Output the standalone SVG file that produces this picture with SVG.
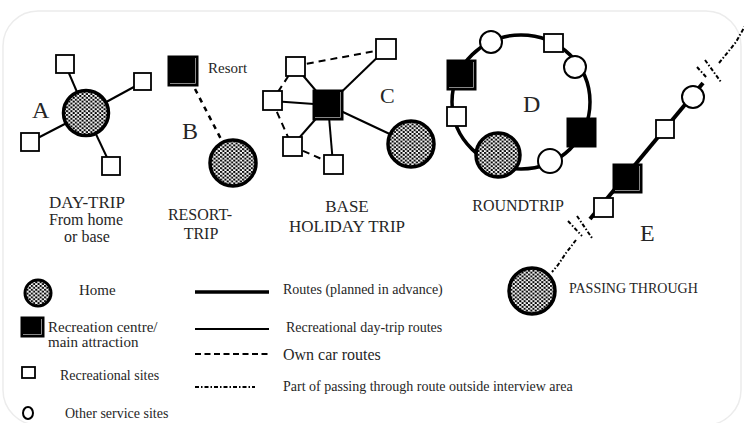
<svg xmlns="http://www.w3.org/2000/svg" width="744" height="423" viewBox="0 0 744 423">
<defs>
<pattern id="dots" patternUnits="userSpaceOnUse" width="4.4" height="3.8">
<rect width="4.4" height="3.8" fill="#fff"/>
<circle cx="1.1" cy="0.95" r="1.15" fill="#000"/>
<circle cx="3.3" cy="2.85" r="1.15" fill="#000"/>
</pattern>
</defs>
<style>
text{font-family:"Liberation Serif","Times New Roman",serif;fill:#262626}
.home{fill:url(#dots);stroke:#000;stroke-width:3.5}
.sq{fill:#fff;stroke:#000;stroke-width:1.8}
.blk{fill:#000;stroke:#000;stroke-width:1}
.shine{fill:none;stroke:#888;stroke-width:1}
.svc{fill:#fff;stroke:#000;stroke-width:2}
.thin{stroke:#000;stroke-width:2;fill:none}
.thick{stroke:#000;stroke-width:3.6;fill:none}
.dash{stroke:#000;stroke-width:2;fill:none;stroke-dasharray:7 5}
.pass{stroke:#000;stroke-width:2;fill:none;stroke-dasharray:4 2 1.5 2}
.lbl{font-size:24px}
.cap{font-size:17px;text-anchor:middle}
.leg{font-size:14px}
</style>
<rect x="3" y="11" width="738" height="414" rx="35" fill="#fff" stroke="#ececec" stroke-width="1.5"/>

<g id="connectors">
<line class="thin" x1="86" y1="113" x2="65" y2="64"/>
<line class="thin" x1="86" y1="113" x2="143" y2="82"/>
<line class="thin" x1="86" y1="113" x2="30" y2="142"/>
<line class="thin" x1="86" y1="113" x2="111" y2="166"/>
<line x1="195" y1="89" x2="222" y2="141" stroke="#000" stroke-width="2.5" stroke-dasharray="5 5"/>
<line class="thin" x1="328" y1="105" x2="386" y2="49"/>
<line class="thin" x1="328" y1="105" x2="295" y2="66"/>
<line class="thin" x1="328" y1="105" x2="272" y2="101"/>
<line class="thin" x1="328" y1="105" x2="292" y2="146"/>
<line class="thin" x1="328" y1="105" x2="333" y2="164"/>
<line class="thin" x1="328" y1="105" x2="411" y2="144"/>
<line class="dash" x1="295" y1="66" x2="386" y2="49"/>
<line class="dash" x1="295" y1="66" x2="272" y2="101"/>
<line class="dash" x1="272" y1="101" x2="292" y2="146"/>
<line class="dash" x1="292" y1="146" x2="333" y2="164"/>
<ellipse cx="521" cy="102" rx="69" ry="67" fill="none" stroke="#000" stroke-width="3.5"/>
<line x1="590" y1="219" x2="703" y2="83" stroke="#000" stroke-width="4"/>
<path class="pass" d="M719 63 L728 52 L736 42 L741 33 L745 26"/>
<path class="pass" d="M697 67 L707 78 M705 60 L721 82"/>
<path class="pass" d="M568 221 L582 236 M577 216 L592 238"/>
<path class="pass" d="M576 240 L566 253 L558 265 L552 272"/>
</g>

<g id="nodeA">
<circle class="home" cx="86" cy="113" r="22.5"/>
<rect class="sq" x="56" y="55" width="18" height="18"/>
<rect class="sq" x="134" y="73" width="17" height="17"/>
<rect class="sq" x="21" y="133" width="18" height="18"/>
<rect class="sq" x="102" y="157" width="18" height="18"/>
<text class="lbl" x="32" y="118">A</text>
<text class="cap" x="87" y="208">DAY-TRIP</text>
<text class="cap" x="86" y="225" style="font-size:16px">From home</text>
<text class="cap" x="87" y="242" style="font-size:16px">or base</text>
</g>

<g id="nodeB">
<rect class="blk" x="168" y="56" width="30" height="30"/>
<path class="shine" d="M195.5 58 V83.5 H170"/>
<text x="208" y="73" style="font-size:15px">Resort</text>
<circle class="home" cx="233" cy="163" r="23"/>
<text class="lbl" x="182" y="139">B</text>
<text class="cap" x="200" y="220" style="font-size:16px">RESORT-</text>
<text class="cap" x="201" y="239" style="font-size:16px">TRIP</text>
</g>

<g id="nodeC">
<rect class="sq" x="376" y="39" width="20" height="20"/>
<rect class="sq" x="286" y="57" width="19" height="19"/>
<rect class="sq" x="263" y="91" width="19" height="19"/>
<rect class="sq" x="283" y="137" width="19" height="19"/>
<rect class="sq" x="324" y="155" width="19" height="19"/>
<rect class="blk" x="313" y="90" width="30" height="30"/>
<path class="shine" d="M340.5 92 V117.5 H315"/>
<circle class="home" cx="411" cy="144" r="23"/>
<text class="lbl" x="380" y="103" style="font-size:22px">C</text>
<text class="cap" x="347" y="212">BASE</text>
<text class="cap" x="347" y="232">HOLIDAY TRIP</text>
</g>

<g id="nodeD">
<circle class="svc" cx="491" cy="42" r="11"/>
<rect class="sq" x="544" y="34" width="19" height="18"/>
<circle class="svc" cx="575" cy="67" r="11"/>
<rect class="blk" x="447" y="60" width="29" height="30"/>
<path class="shine" d="M473.5 62 V87.5 H449"/>
<rect class="sq" x="447" y="107" width="19" height="19"/>
<rect class="blk" x="567" y="118" width="29" height="29"/>
<circle class="svc" cx="550" cy="161" r="12"/>
<circle class="home" cx="498" cy="155" r="22"/>
<text class="lbl" x="523" y="112">D</text>
<text class="cap" x="518" y="211" style="font-size:16px">ROUNDTRIP</text>
</g>

<g id="nodeE">
<rect class="sq" x="594" y="198" width="19" height="19"/>
<rect class="blk" x="613" y="164" width="29" height="29"/>
<path class="shine" d="M639.5 166 V190.5 H615"/>
<rect class="sq" x="656" y="120" width="18" height="18"/>
<circle class="svc" cx="693" cy="97" r="11"/>
<circle class="home" cx="532" cy="291" r="23"/>
<text class="lbl" x="640" y="241">E</text>
<text x="569" y="293" style="font-size:14px">PASSING THROUGH</text>
</g>

<g id="legend">
<circle class="home" cx="38" cy="293" r="13" style="stroke-width:3"/>
<text x="79" y="295" style="font-size:15px">Home</text>
<rect class="blk" x="21" y="317" width="23" height="20"/>
<path class="shine" d="M41.5 319 V334.5 H23"/>
<text x="48" y="332" style="font-size:15px">Recreation centre/</text>
<text x="48" y="347" style="font-size:15px">main attraction</text>
<rect class="sq" x="22" y="367" width="13" height="11"/>
<text x="60" y="380" style="font-size:14px">Recreational sites</text>
<ellipse cx="28" cy="413" rx="5" ry="6" fill="#fff" stroke="#000" stroke-width="2"/>
<text x="65" y="418" style="font-size:14px">Other service sites</text>
<line class="thick" x1="195" y1="292" x2="269" y2="292"/>
<text class="leg" x="283" y="294">Routes (planned in advance)</text>
<line class="thin" x1="195" y1="329" x2="269" y2="329"/>
<text class="leg" x="286" y="332">Recreational day-trip routes</text>
<line class="dash" x1="195" y1="354" x2="269" y2="354" style="stroke-dasharray:6 3.5"/>
<text x="283" y="360" style="font-size:16px">Own car routes</text>
<line class="pass" x1="195" y1="387" x2="255" y2="387"/>
<text class="leg" x="283" y="391">Part of passing through route outside interview area</text>
</g>
</svg>
